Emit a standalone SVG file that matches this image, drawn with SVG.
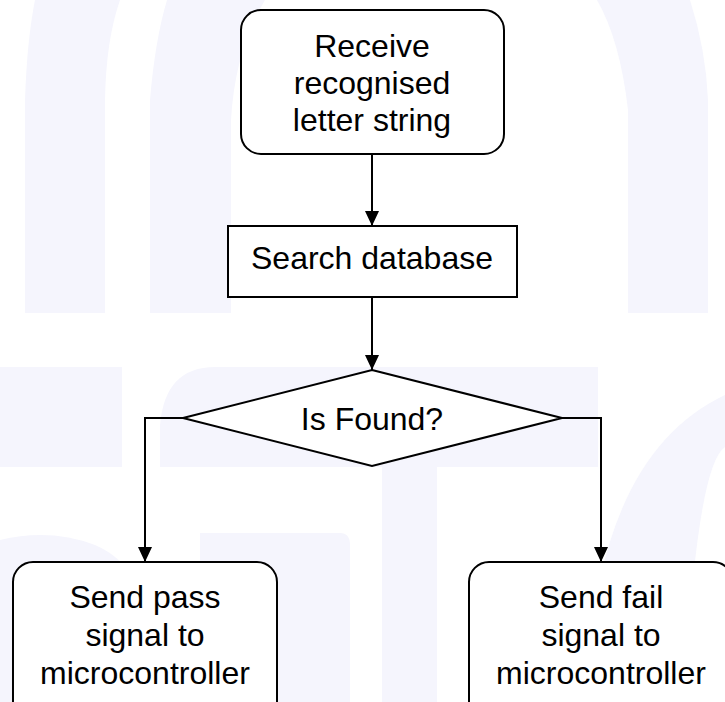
<svg xmlns="http://www.w3.org/2000/svg" width="725" height="702" viewBox="0 0 725 702">
  <style>
    .wm { fill: #f5f5fd; stroke: none; }
    .box { fill: #ffffff; stroke: #000000; stroke-width: 2; }
    .lbl { font-family: "Liberation Sans", Arial, sans-serif; font-size: 32px; fill: #000000; text-anchor: middle; }
    .edge { fill: none; stroke: #000000; stroke-width: 2; }
  </style>
  <defs>
    <marker id="arrow" markerUnits="userSpaceOnUse" markerWidth="15" markerHeight="14" refX="15" refY="7" orient="auto">
      <path d="M0,0 L15,7 L0,14 Z" fill="#000000"/>
    </marker>
  </defs>

  <rect x="0" y="0" width="725" height="702" fill="#ffffff"/>

  <!-- faint background mark -->
  <g id="backdrop">
    <path class="wm" d="M35,0 L120,0 Q106,40 105,100 L105,313 L25,313 L25,100 Q27,40 35,0 Z"/>
    <path class="wm" d="M167,0 L265,0 Q235,50 231,120 L231,313 L150,313 L150,100 Q155,40 167,0 Z"/>
    <path class="wm" d="M597,0 L690,0 Q706,50 708,100 L708,313 L628,313 L628,110 Q620,40 597,0 Z"/>
    <rect class="wm" x="0" y="367" width="122" height="100"/>
    <path class="wm" d="M160,467 L160,425 Q165,367 215,367 L598,367 L598,467 Z"/>
    <path class="wm" d="M382,467 L437,467 L437,702 L382,702 Z"/>
    <path class="wm" d="M200,533 L340,533 Q350,533 350,545 L350,702 L200,702 Z"/>
    <path class="wm" d="M0,540 Q50,528 95,545 Q120,556 130,575 L130,702 L0,702 Z"/>
    <path class="wm" d="M600,580 Q630,440 725,395 L725,447 Q705,460 693,580 Z"/>
  </g>

  <!-- connectors -->
  <g id="connectors">
    <path class="edge" d="M372,154 L372,226" marker-end="url(#arrow)"/>
    <path class="edge" d="M372,298 L372,370" marker-end="url(#arrow)"/>
    <path class="edge" d="M183,418 L145,418 L145,562" marker-end="url(#arrow)"/>
    <path class="edge" d="M562,418 L601,418 L601,562" marker-end="url(#arrow)"/>
  </g>

  <g id="receive">
    <rect class="box" x="241" y="10" width="263" height="144" rx="20" ry="20"/>
    <text class="lbl" x="372" y="57">Receive</text>
    <text class="lbl" x="372" y="94">recognised</text>
    <text class="lbl" x="372" y="131">letter string</text>
  </g>

  <g id="search">
    <rect class="box" x="228" y="226" width="289" height="71"/>
    <text class="lbl" x="372" y="269">Search database</text>
  </g>

  <g id="decision">
    <polygon class="box" points="372,370 562,418 372,466 183,418"/>
    <text class="lbl" x="372" y="430">Is Found?</text>
  </g>

  <g id="pass">
    <rect class="box" x="13" y="562" width="264" height="160" rx="20" ry="20"/>
    <text class="lbl" x="145" y="608">Send pass</text>
    <text class="lbl" x="145" y="646">signal to</text>
    <text class="lbl" x="145" y="684">microcontroller</text>
  </g>

  <g id="fail">
    <rect class="box" x="469" y="562" width="264" height="160" rx="20" ry="20"/>
    <text class="lbl" x="601" y="608">Send fail</text>
    <text class="lbl" x="601" y="646">signal to</text>
    <text class="lbl" x="601" y="684">microcontroller</text>
  </g>
</svg>
